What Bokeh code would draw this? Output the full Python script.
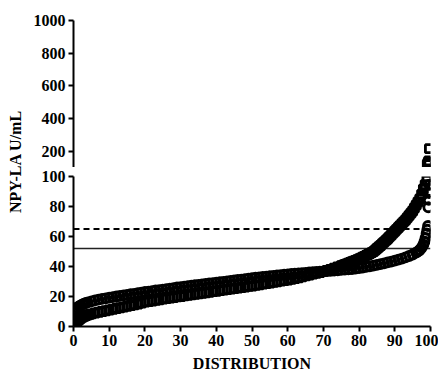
import math
from bokeh.plotting import figure
from bokeh.layouts import row, column
from bokeh.models import Range1d, FixedTicker, Span, Label
from bokeh.embed import file_html
from bokeh.resources import INLINE

# ---------------- data ----------------
# Group A (open circles): percentile position vs NPY-LA U/mL
pct_a = [0, 0.5, 1, 1.5, 2, 2.5, 3, 3.5, 4, 5, 6, 7, 8, 9, 10, 11, 12, 13, 14, 15, 16, 17, 18, 19, 20,
         21, 22, 23, 24, 25, 26, 27, 28, 29, 30, 31, 32, 33, 34, 35, 36, 37, 38, 39, 40,
         41, 42, 43, 44, 45, 46, 47, 48, 49, 50, 51, 52, 53, 54, 55, 56, 57, 58, 59, 60,
         61, 62, 63, 64, 65, 66, 67, 68, 69, 70, 71, 72, 73, 74, 75, 76, 77, 78, 79, 80,
         81, 82, 83, 84, 85, 86, 87, 88, 89, 90, 91, 92, 93, 94, 95, 96, 96.5, 97,
         97.5, 98, 98.3, 98.6, 98.9, 99.1, 99.3, 99.4, 99.5, 99.6, 99.7]
val_a = [10.5, 11.6, 12.6, 13.4, 14.1, 14.7, 15.2, 15.7, 16.1, 16.8, 17.4, 17.9, 18.4, 18.8, 19.2, 19.6, 20.0, 20.4, 20.8, 21.1, 21.5, 21.8, 22.2, 22.6, 23.0,
         23.3, 23.6, 24.0, 24.3, 24.6, 24.9, 25.3, 25.6, 26.0, 26.3, 26.6, 26.9, 27.2, 27.5, 27.8, 28.1, 28.4, 28.7, 28.9, 29.2,
         29.5, 29.8, 30.1, 30.4, 30.7, 31.0, 31.3, 31.6, 31.9, 32.3, 32.5, 32.8, 33.1, 33.3, 33.6, 33.8, 34.1, 34.3, 34.6, 34.8,
         35.0, 35.2, 35.4, 35.6, 35.8, 36.0, 36.2, 36.4, 36.5, 36.7, 36.9, 37.1, 37.3, 37.5, 37.7, 37.9, 38.1, 38.3, 38.6, 38.9,
         39.3, 39.7, 40.1, 40.6, 41.1, 41.6, 42.1, 42.7, 43.3, 43.9, 44.6, 45.3, 46.1, 47.0, 48.0, 49.3, 50.1, 51.0,
         52.5, 54.5, 56.5, 59.0, 62.0, 64.5, 67.0, 79.5, 84.5, 89.0, 94.5]

# Group B (open squares)
pct_b = [0, 0.5, 1, 1.5, 2, 2.5, 3, 3.5, 4, 4.5, 5, 6, 7, 8, 9, 10, 11, 12, 13, 14, 15, 16, 17, 18, 19, 20,
         21, 22, 23, 24, 25, 26, 27, 28, 29, 30, 31, 32, 33, 34, 35, 36, 37, 38, 39, 40,
         41, 42, 43, 44, 45, 46, 47, 48, 49, 50, 51, 52, 53, 54, 55, 56, 57, 58, 59, 60,
         61, 62, 63, 64, 65, 66, 67, 68, 69, 70, 71, 72, 73, 74, 75, 75.5, 76, 76.5, 77, 77.5,
         78, 78.5, 79, 79.5, 80, 80.5, 81, 81.5, 82, 82.5, 83, 83.5, 84, 84.5, 85, 85.5,
         86, 86.5, 87, 87.5, 88, 88.5, 89, 89.5, 90, 90.5, 91, 91.5, 92, 92.5, 93, 93.5,
         94, 94.5, 95, 95.5, 96, 96.5, 97, 97.5, 98, 98.5, 99,
         99.1, 99.25, 99.4, 99.55, 99.7]
val_b = [0.0, 2.0, 3.5, 4.5, 5.5, 6.2, 6.8, 7.3, 7.7, 8.1, 8.4, 9.0, 9.5, 10.0, 10.5, 11.0, 11.5, 12.0, 12.5, 13.0, 13.5, 14.0, 14.5, 15.0, 15.6, 16.2,
         16.6, 17.0, 17.4, 17.8, 18.2, 18.6, 19.0, 19.3, 19.7, 20.0, 20.4, 20.7, 21.1, 21.4, 21.8, 22.1, 22.5, 22.8, 23.2, 23.5,
         23.9, 24.2, 24.6, 24.9, 25.3, 25.6, 26.0, 26.3, 26.7, 27.0, 27.4, 27.8, 28.2, 28.6, 29.0, 29.4, 29.8, 30.2, 30.6, 31.0,
         31.5, 32.0, 32.5, 33.1, 33.7, 34.3, 34.9, 35.5, 36.0, 36.7, 37.4, 38.1, 38.9, 39.7, 40.5, 40.9, 41.4, 41.8, 42.3, 42.7,
         43.2, 43.6, 44.1, 44.5, 45.0, 45.6, 46.2, 46.8, 47.4, 48.0, 48.6, 49.2, 49.9, 50.9, 52.0, 53.0,
         54.0, 55.2, 56.3, 57.4, 58.5, 59.8, 61.0, 62.3, 63.5, 64.8, 66.0, 67.3, 68.5, 69.8, 71.0, 72.5,
         74.0, 75.5, 77.0, 79.0, 81.0, 83.0, 85.0, 88.0, 91.5, 94.5, 97.5,
         118.0, 126.0, 133.0, 140.0, 215.0]

x_ticks = [0, 10, 20, 30, 40, 50, 60, 70, 80, 90, 100]
y_ticks_low = [0, 20, 40, 60, 80, 100]
y_ticks_up = [200, 400, 600, 800, 1000]
cutoff_dashed = 65
cutoff_solid = 52
break_value = 100

FONT = "Liberation Serif"
MSIZE = 9
MLW = 2.8


def style_axis(ax):
    ax.axis_line_width = 2
    ax.axis_line_color = "black"
    ax.major_tick_line_width = 2
    ax.major_tick_line_color = "black"
    ax.major_tick_out = 5
    ax.major_tick_in = 0
    ax.minor_tick_line_color = None
    ax.major_label_text_font = FONT
    ax.major_label_text_font_style = "bold"
    ax.major_label_text_font_size = "16px"
    ax.major_label_text_color = "black"
    ax.major_label_standoff = 3


shared_x = Range1d(0, 100)

# ---------------- upper segment (100 - 1000) ----------------
up = figure(width=408, height=167, x_range=shared_x, y_range=Range1d(break_value, 1000),
            output_backend="svg", toolbar_location=None, x_axis_location=None,
            min_border_left=42, min_border_right=8, min_border_top=20, min_border_bottom=0)
up.grid.visible = False
up.outline_line_color = None
style_axis(up.yaxis[0])
up.yaxis[0].ticker = FixedTicker(ticks=y_ticks_up)

ua_x = [p for p, v in zip(pct_a, val_a) if v > break_value]
ua_y = [v for v in val_a if v > break_value]
ub_x = [p for p, v in zip(pct_b, val_b) if v > break_value]
ub_y = [v for v in val_b if v > break_value]
if ua_x:
    up.scatter(ua_x, ua_y, marker="circle", size=MSIZE, fill_color=None, line_color="black", line_width=MLW)
up.scatter(ub_x, ub_y, marker="square", size=MSIZE - 1, fill_color=None, line_color="black", line_width=MLW)

# ---------------- lower segment (0 - 100) ----------------
low = figure(width=408, height=208, x_range=shared_x, y_range=Range1d(0, break_value),
             output_backend="svg", toolbar_location=None,
             min_border_left=42, min_border_right=8, min_border_top=9, min_border_bottom=49)
low.grid.visible = False
low.outline_line_color = None
style_axis(low.yaxis[0])
style_axis(low.xaxis[0])
low.yaxis[0].ticker = FixedTicker(ticks=y_ticks_low)
low.xaxis[0].ticker = FixedTicker(ticks=x_ticks)
low.xaxis[0].axis_label = "DISTRIBUTION"
low.xaxis[0].axis_label_text_font = FONT
low.xaxis[0].axis_label_text_font_style = "bold"
low.xaxis[0].axis_label_text_font_size = "16px"
low.xaxis[0].axis_label_text_color = "black"
low.xaxis[0].axis_label_standoff = 6

low.add_layout(Span(location=cutoff_dashed, dimension="width", line_color="black",
                    line_width=2, line_dash="6 4", level="underlay"))
low.add_layout(Span(location=cutoff_solid, dimension="width", line_color="#222222",
                    line_width=1.5, level="underlay"))

la_x = [p for p, v in zip(pct_a, val_a) if v <= break_value]
la_y = [v for v in val_a if v <= break_value]
lb_x = [p for p, v in zip(pct_b, val_b) if v <= break_value]
lb_y = [v for v in val_b if v <= break_value]
low.scatter(lb_x, lb_y, marker="square", size=MSIZE - 1, fill_color=None, line_color="black", line_width=MLW)
low.scatter(la_x, la_y, marker="circle", size=MSIZE, fill_color=None, line_color="black", line_width=MLW)

# ---------------- y axis title panel ----------------
lab = figure(width=30, height=375, x_range=Range1d(0, 1), y_range=Range1d(0, 1),
             output_backend="svg", toolbar_location=None,
             x_axis_location=None, y_axis_location=None, min_border=0)
lab.grid.visible = False
lab.outline_line_color = None
lab.add_layout(Label(x=15, y=214, x_units="screen", y_units="screen", text="NPY-LA U/mL",
                     angle=math.pi / 2, text_align="center", text_baseline="middle",
                     text_font=FONT, text_font_style="bold", text_font_size="16px",
                     text_color="black"))

layout = row(lab, column(up, low))

open("out.html", "w").write(file_html(layout, INLINE))
